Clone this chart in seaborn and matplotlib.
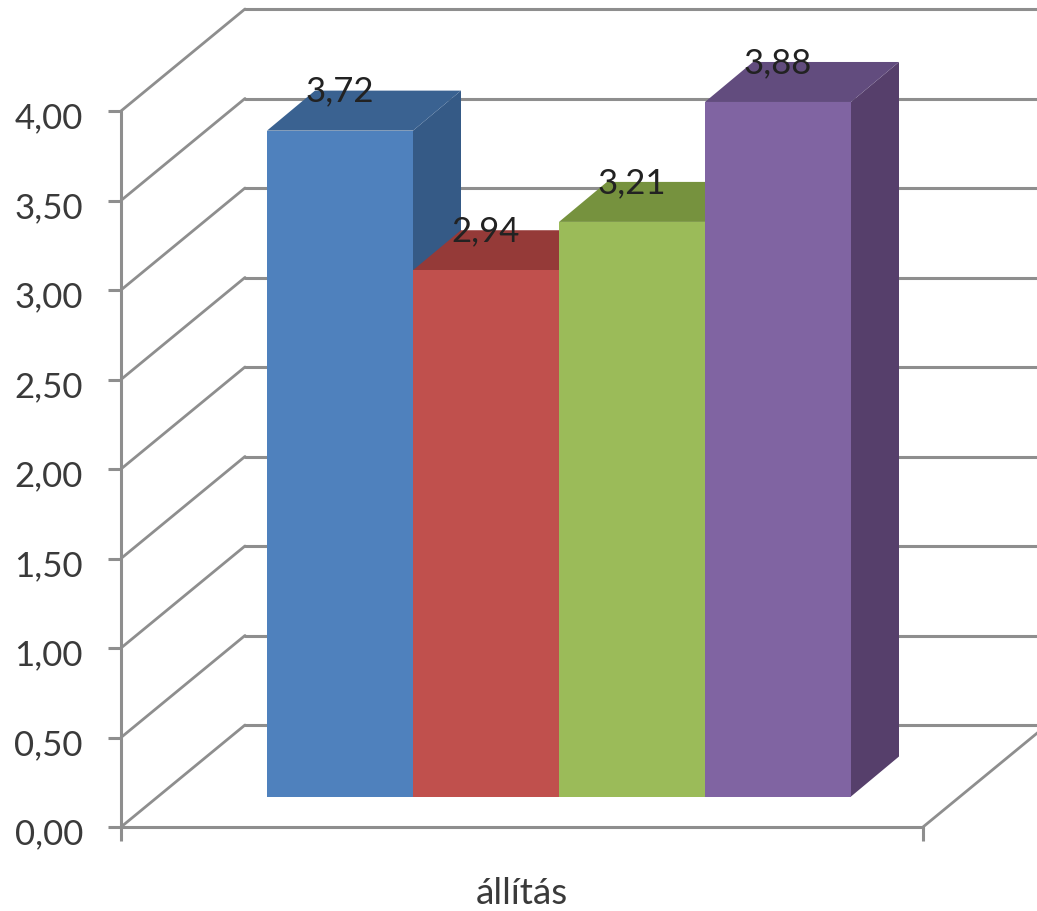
import matplotlib
matplotlib.use("Agg")
import matplotlib.pyplot as plt
from matplotlib.transforms import ScaledTranslation
import seaborn as sns

series = ["1", "2", "3", "4"]
values = [3.72, 2.94, 3.21, 3.88]
value_labels = ["3,72", "2,94", "3,21", "3,88"]
category = "állítás"
y_ticks = [0, 0.5, 1, 1.5, 2, 2.5, 3, 3.5, 4]
y_tick_labels = ["0,00", "0,50", "1,00", "1,50", "2,00", "2,50", "3,00", "3,50", "4,00"]

front_colors = ["#4F81BD", "#C0504D", "#9BBB59", "#8064A2"]
top_colors = ["#3A6291", "#953A38", "#76923E", "#624C7E"]
side_colors = ["#355A86", "#8A3533", "#6C8638", "#563F6B"]
grid_color = "#8E8E8E"

W, H = 1037, 912


def px_axes(fig, left, right, top, bottom):
    return fig.add_axes([left / W, 1 - bottom / H, (right - left) / W, (bottom - top) / H])


sns.set_theme(style="white")
plt.rcParams["font.family"] = ["Lato", "DejaVu Sans"]

fig = plt.figure(figsize=(W / 100, H / 100), dpi=100, facecolor="white")

# front frame of the chart, with the real axis
frame = px_axes(fig, 121, 923, 112, 828)
frame.set_xlim(0, 1)
frame.set_ylim(0, 4)
frame.set_yticks(y_ticks)
frame.set_yticklabels(y_tick_labels, fontsize=25, color="#3A3A3A")
frame.set_xticks([0, 1])
frame.set_xticklabels(["", ""])
frame.set_xlabel(category, fontsize=26.5, color="#3A3A3A", labelpad=22)
frame.tick_params(axis="y", length=9.4, width=2.2, color=grid_color, pad=18, left=True)
frame.tick_params(axis="x", length=10, width=2.2, color=grid_color, bottom=True)
shift = ScaledTranslation(0, -2.5 / 72, fig.dpi_scale_trans)
for lab in frame.get_yticklabels():
    lab.set_transform(lab.get_transform() + shift)
for name, spine in frame.spines.items():
    spine.set_visible(name in ("left", "bottom"))
    spine.set_color(grid_color)
    spine.set_linewidth(2.2)
frame.patch.set_visible(False)

# back wall and floor, pushed back from the frame
wall_dx = 124 / 802
wall_dy = 102 / 179
for v in y_ticks:
    frame.plot([0, wall_dx], [v, v + wall_dy], color=grid_color, lw=2, clip_on=False)
    frame.plot([wall_dx, 2], [v + wall_dy, v + wall_dy], color=grid_color, lw=2.2, clip_on=False)
frame.plot([1, 1 + wall_dx], [0, wall_dy], color=grid_color, lw=2, clip_on=False)

# bars sit a little behind the frame
ax = px_axes(fig, 267, 851, 81.5, 797.5)
df_x = [category] * len(values)
sns.barplot(x=df_x, y=values, hue=series, hue_order=series, palette=front_colors,
            width=1, gap=0, saturation=1, linewidth=0, legend=False, ax=ax)
ax.set_xlim(-0.5, 0.5)
ax.set_ylim(0, 4)
ax.axis("off")

depth_x = 48 / 584
depth_y = 40 / 179
for i, bar in enumerate(ax.patches):
    x0 = bar.get_x()
    x1 = x0 + bar.get_width()
    h = bar.get_height()
    bar.set_zorder(3 + i * 3 + 2)
    ax.fill([x1, x1 + depth_x, x1 + depth_x, x1], [0, depth_y, h + depth_y, h],
            color=side_colors[i], lw=0, clip_on=False, zorder=3 + i * 3)
    ax.fill([x0, x1, x1 + depth_x, x0 + depth_x], [h, h, h + depth_y, h + depth_y],
            color=top_colors[i], lw=0, clip_on=False, zorder=3 + i * 3 + 1)
    ax.text(x0 + bar.get_width() / 2, h + 40 / 179, value_labels[i], ha="center", va="center",
            fontsize=25, color="#222222", zorder=30, clip_on=False)

fig.savefig("out.png", dpi=100, facecolor="white")
